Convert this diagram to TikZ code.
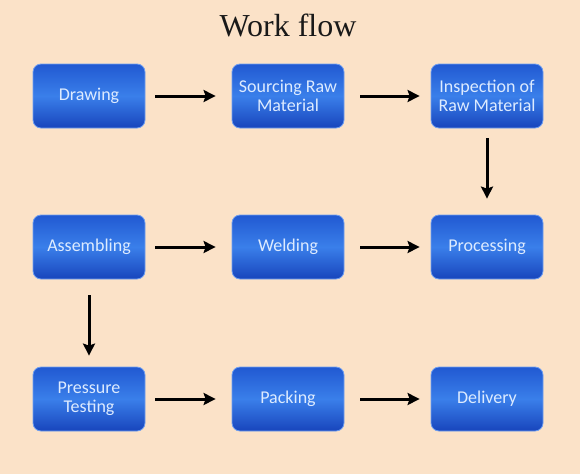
\documentclass[tikz,border=0pt]{standalone}
\usepackage{fontspec}
\newfontfamily\boxfont{Carlito}
\newfontfamily\titlefont{Liberation Serif}
\usetikzlibrary{arrows.meta,shadings}
\definecolor{bgpeach}{HTML}{FBE2C8}
\definecolor{boxtop}{HTML}{2159D2}
\definecolor{boxmid}{HTML}{3A7FEA}
\definecolor{boxbot}{HTML}{1845BC}
\definecolor{boxedge}{HTML}{6F9EF0}
\definecolor{boxtext}{HTML}{DDEBFF}
\tikzset{
  flowbox/.style={rectangle, rounded corners=8pt, minimum width=112pt, minimum height=64pt,
    top color=boxtop, bottom color=boxbot, middle color=boxmid, draw=boxedge, line width=0.8pt,
    text=boxtext, font=\boxfont\fontsize{18}{19}\selectfont, align=center, inner sep=2pt},
  flowarrow/.style={line width=3pt, -{Stealth[length=12pt,width=12pt,inset=2pt]}, black},
}
\begin{document}
\begin{tikzpicture}[x=1pt,y=-1pt]
\fill[bgpeach] (0,0) rectangle (580,474);
\useasboundingbox (0,0) rectangle (580,474);
\node[font=\titlefont\fontsize{32}{34}\selectfont, text=black!90] (title) at (288,25) {Work flow};
\node[flowbox] (draw) at (89,96) {Drawing};
\node[flowbox] (src) at (288,96) {Sourcing Raw\\Material};
\node[flowbox] (insp) at (487,96) {Inspection of\\Raw Material};
\node[flowbox] (asm) at (89,247) {Assembling};
\node[flowbox] (weld) at (288,247) {Welding};
\node[flowbox] (proc) at (487,247) {Processing};
\node[flowbox] (pres) at (89,399) {Pressure\\Testing};
\node[flowbox] (pack) at (288,399) {Packing};
\node[flowbox] (deliv) at (487,399) {Delivery};
\draw[flowarrow] ([xshift=10pt]draw.east) -- ([xshift=-16pt]src.west);
\draw[flowarrow] ([xshift=16pt]src.east) -- ([xshift=-11pt]insp.west);
\draw[flowarrow] ([yshift=-10pt]insp.south) -- ([yshift=16pt]proc.north);
\draw[flowarrow] ([xshift=10pt]asm.east) -- ([xshift=-16pt]weld.west);
\draw[flowarrow] ([xshift=16pt]weld.east) -- ([xshift=-11pt]proc.west);
\draw[flowarrow] ([yshift=-16pt]asm.south) -- ([yshift=11pt]pres.north);
\draw[flowarrow] ([xshift=10pt]pres.east) -- ([xshift=-16pt]pack.west);
\draw[flowarrow] ([xshift=16pt]pack.east) -- ([xshift=-11pt]deliv.west);
\end{tikzpicture}
\end{document}
